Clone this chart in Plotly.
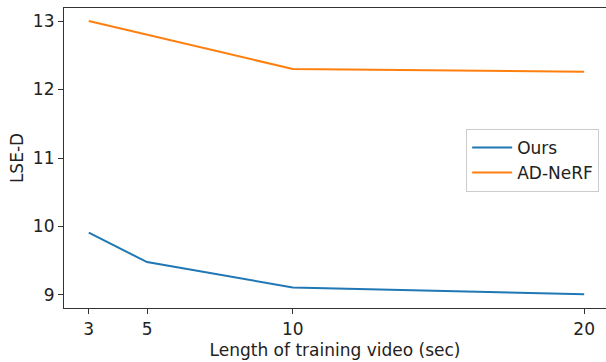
import plotly.graph_objects as go

x_vals = [3, 5, 10, 20]
ours = [9.91, 9.48, 9.11, 9.01]
adnerf = [13.0, 12.8, 12.30, 12.26]
x_ticks = [3, 5, 10, 20]
y_ticks = [9, 10, 11, 12, 13]

fig = go.Figure()
fig.add_trace(go.Scatter(x=x_vals, y=ours, mode="lines", name="Ours",
                         line=dict(color="#1f77b4", width=2)))
fig.add_trace(go.Scatter(x=x_vals, y=adnerf, mode="lines", name="AD-NeRF",
                         line=dict(color="#ff7f0e", width=2)))

FS = 17
font = dict(family="DejaVu Sans", size=FS, color="#222222")
fig.update_layout(
    width=606, height=362,
    margin=dict(l=64, r=0, t=8, b=54),
    plot_bgcolor="white", paper_bgcolor="white",
    font=font,
    showlegend=True,
    legend=dict(x=0.742, y=0.597, xanchor="left", yanchor="top",
                bordercolor="#cccccc", borderwidth=1, bgcolor="white",
                font=font, itemwidth=40),
    xaxis=dict(range=[2.15, 20.75], tickvals=x_ticks, ticktext=[str(t) for t in x_ticks],
               showgrid=False, zeroline=False, showline=True, linecolor="#333333",
               linewidth=1.2, mirror=True, ticks="outside", ticklen=5, tickcolor="#333333",
               automargin=False, tickfont=font,
               title=dict(text="Length of training video (sec)", standoff=6, font=font)),
    yaxis=dict(range=[8.81, 13.19], tickvals=y_ticks, ticktext=[str(t) for t in y_ticks],
               showgrid=False, zeroline=False, showline=True, linecolor="#333333",
               linewidth=1.2, mirror=False, ticks="outside", ticklen=5, tickcolor="#333333",
               automargin=False, tickfont=font,
               title=dict(text="LSE-D", standoff=4, font=font)),
)

fig.write_html("out.html", config={"displayModeBar": False},
               post_script="document.body.style.margin='0';")
